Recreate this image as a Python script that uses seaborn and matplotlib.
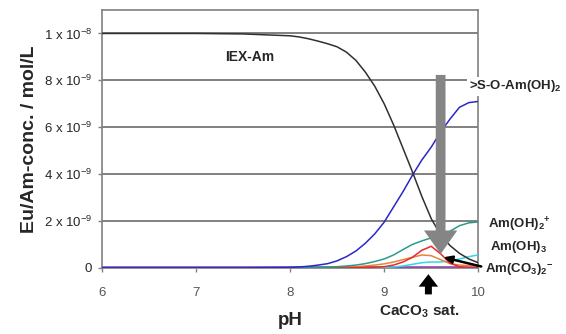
import matplotlib
matplotlib.use("Agg")
import matplotlib.pyplot as plt
import seaborn as sns
import pandas as pd

sns.set_style("white")
plt.rcParams['font.family'] = ['Liberation Sans', 'DejaVu Sans']
plt.rcParams['mathtext.fontset'] = 'custom'
plt.rcParams['mathtext.rm'] = 'Liberation Sans'
plt.rcParams['mathtext.bf'] = 'Liberation Sans:bold'

ph = [6, 6.5, 7, 7.5, 8.0, 8.1, 8.2, 8.3, 8.4, 8.5, 8.6, 8.7, 8.8, 8.9,
      9.0, 9.1, 9.2, 9.3, 9.4, 9.5, 9.6, 9.7, 9.8, 9.9, 10.0]
iex_am = [10, 10, 10, 9.98, 9.9, 9.85, 9.77, 9.67, 9.56, 9.43, 9.2, 8.85, 8.35, 7.75,
          7.0, 6.1, 5.1, 4.1, 3.05, 2.1, 1.41, 0.95, 0.62, 0.38, 0.22]
s_o_am = [0, 0, 0, 0, 0.02, 0.04, 0.07, 0.12, 0.18, 0.3, 0.48, 0.72, 1.05, 1.45,
          1.95, 2.6, 3.25, 3.95, 4.6, 5.15, 5.8, 6.35, 6.85, 7.05, 7.1]
am_oh2 = [0, 0, 0, 0, 0, 0.01, 0.01, 0.02, 0.03, 0.05, 0.08, 0.12, 0.18, 0.27,
          0.38, 0.55, 0.78, 1.0, 1.15, 1.28, 1.42, 1.56, 1.8, 1.92, 1.96]
am_co3 = [0, 0, 0, 0, 0, 0, 0, 0, 0, 0, 0, 0.01, 0.02, 0.03,
          0.05, 0.12, 0.25, 0.45, 0.75, 0.92, 0.6, 0.2, 0.05, 0, 0]
am_oh3 = [0, 0, 0, 0, 0, 0, 0, 0.01, 0.01, 0.02, 0.03, 0.05, 0.08, 0.12,
          0.17, 0.25, 0.35, 0.45, 0.55, 0.52, 0.35, 0.18, 0.12, 0.1, 0.1]
cyan_sp = [0, 0, 0, 0, 0, 0, 0, 0, 0, 0, 0, 0, 0, 0.01,
           0.02, 0.04, 0.08, 0.15, 0.22, 0.25, 0.25, 0.3, 0.38, 0.48, 0.55]
purple_sp = [0.02] * len(ph)

series = {
    "IEX-Am": iex_am,
    "S-O-Am": s_o_am,
    "Am(OH)2+": am_oh2,
    "Am(CO3)": am_co3,
    "Am(OH)3": am_oh3,
    "cyan": cyan_sp,
    "purple": purple_sp,
}
colors = {
    "IEX-Am": "#303030",
    "S-O-Am": "#2828c8",
    "Am(OH)2+": "#2a9a8a",
    "Am(CO3)": "#e82a2a",
    "Am(OH)3": "#e8843a",
    "cyan": "#30d8e8",
    "purple": "#8a3aa8",
}

rows = []
for name, vals in series.items():
    for x, v in zip(ph, vals):
        rows.append({"pH": x, "conc": v * 1e-9, "species": name})
df = pd.DataFrame(rows)

fig = plt.figure(figsize=(5.66, 3.34), dpi=100)
ax = fig.add_axes([0.180, 0.198, 0.665, 0.772])

for yv in [2e-9, 4e-9, 6e-9, 8e-9, 1e-8]:
    ax.axhline(yv, color="#808080", lw=1.4, zorder=0)

order = ["purple", "cyan", "Am(OH)3", "Am(CO3)", "Am(OH)2+", "S-O-Am", "IEX-Am"]
sns.lineplot(data=df, x="pH", y="conc", hue="species", hue_order=order,
             palette=colors, legend=False, ax=ax, linewidth=1.1, zorder=3)

ax.set_xlim(6, 10)
ax.set_ylim(0, 1.1e-8)
ax.set_xticks([6, 7, 8, 9, 10])
ax.set_xticklabels(["6", "7", "8", "9", "10"], color="#555555", fontsize=9.5)
ax.set_yticks([0, 2e-9, 4e-9, 6e-9, 8e-9, 1e-8])
ax.set_yticklabels(["0", r"2 x 10$^{-9}$", r"4 x 10$^{-9}$", r"6 x 10$^{-9}$",
                    r"8 x 10$^{-9}$", r"1 x 10$^{-8}$"], fontsize=9.5)
ax.tick_params(axis="both", direction="out", length=3, width=1, color="#808080",
               bottom=True, left=True)
ax.tick_params(axis="x", pad=11)
ax.tick_params(axis="y", pad=4)
for s in ax.spines.values():
    s.set_color("#808080")
    s.set_linewidth(1.2)

ax.set_xlabel("pH", fontsize=13.5, fontweight="bold", labelpad=9)
ax.set_ylabel("Eu/Am-conc. / mol/L", fontsize=14, fontweight="bold", labelpad=4)

ax.text(7.57, 9.0e-9, "IEX-Am", fontsize=10, fontweight="bold", ha="center", va="center")

# big gray arrow
ax.annotate("", xy=(9.6, 0.47e-9), xytext=(9.6, 8.35e-9),
            arrowprops=dict(arrowstyle="simple,head_width=2.4,head_length=1.7,tail_width=0.7",
                            color="#858585", lw=0), zorder=6)

lbl = dict(fontsize=9.5, fontweight="bold", ha="left", va="center", zorder=8,
           bbox=dict(facecolor="white", edgecolor="none", pad=1), annotation_clip=False)
ax.annotate(r">S-O-Am(OH)$_\mathbf{2}$", xy=(9.9, 7.75e-9), **lbl)
ax.annotate(r"Am(OH)$_\mathbf{2}$$^\mathbf{+}$", xy=(10.1, 1.85e-9), **lbl)
ax.annotate(r"Am(OH)$_\mathbf{3}$", xy=(10.12, 0.9e-9), **lbl)
ax.annotate(r"Am(CO$_\mathbf{3}$)$_\mathbf{2}$$^\mathbf{-}$", xy=(10.07, -0.1e-9), **lbl)

# black arrow to Am(CO3)2- curve
ax.annotate("", xy=(9.6, 0.48e-9), xytext=(10.06, 0.03e-9),
            arrowprops=dict(arrowstyle="-|>,head_width=0.22,head_length=0.5",
                            color="black", lw=1.8), zorder=9, annotation_clip=False)

# CaCO3 sat arrow
ax.annotate("", xy=(9.47, -0.15e-9), xytext=(9.47, -1.25e-9),
            arrowprops=dict(arrowstyle="simple,head_width=1.4,head_length=0.9,tail_width=0.5",
                            color="black", lw=0), zorder=9, annotation_clip=False)
ax.annotate(r"CaCO$_\mathbf{3}$ sat.", xy=(9.37, -1.85e-9), fontsize=11, fontweight="bold",
            ha="center", va="center", annotation_clip=False)

fig.savefig("out.png", dpi=100)
